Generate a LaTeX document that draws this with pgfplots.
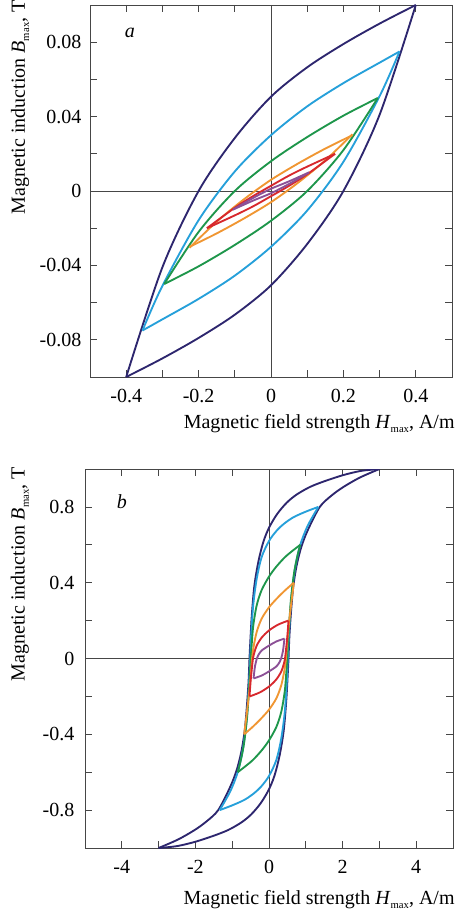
\documentclass[border=0pt]{standalone}
\usepackage{fontspec}
\setmainfont{Liberation Serif}
\usepackage{pgfplots}
\pgfplotsset{compat=1.18}

\definecolor{loopNavy}{RGB}{45,38,110}
\definecolor{loopCyan}{RGB}{38,160,218}
\definecolor{loopGreen}{RGB}{30,150,75}
\definecolor{loopOrange}{RGB}{240,150,50}
\definecolor{loopRed}{RGB}{215,40,45}
\definecolor{loopPurple}{RGB}{140,80,150}
\definecolor{frameInk}{RGB}{70,70,70}

\newcommand{\lbl}{\fontsize{15}{18}\selectfont}
\newcommand{\sub}[1]{\raisebox{-0.45ex}{\fontsize{8}{9}\selectfont #1}}

\pgfplotsset{
  hyst/.style={
    scale only axis,
    anchor=north west,
    axis line style={draw=frameInk, line width=0.7pt},
    tick style={draw=frameInk, line width=0.6pt},
    major tick length=5pt, minor tick length=5pt,
    tick align=inside, xtick pos=both, ytick pos=both,
    minor x tick num=1, minor y tick num=1,
    tick label style={font=\lbl},
    label style={font=\lbl},
    xticklabel style={yshift=-5.5pt},
    yticklabel style={xshift=-3pt},
    xlabel style={anchor=east, inner sep=0pt},
    ylabel style={anchor=east, inner sep=0pt},
  },
  hbranch/.style={smooth, tension=0.5, line width=1.4pt, mark=none},
  zeroline/.style={draw=frameInk, line width=0.7pt, mark=none},
}

\begin{document}
\begin{tikzpicture}
\useasboundingbox (0,0) rectangle (346.5pt,-687.75pt);

% ---- panel a ----
\begin{axis}[hyst,
    at={(67.5pt,-3.75pt)}, width=271.5pt, height=279pt,
    xmin=-0.5, xmax=0.5, ymin=-0.1, ymax=0.1,
    xtick={-0.4,-0.2,0,0.2,0.4}, xticklabels={-0.4,-0.2,0,0.2,0.4},
    ytick={-0.08,-0.04,0,0.04,0.08}, yticklabels={-0.08,-0.04,0,0.04,0.08},
    xlabel={Magnetic field strength \textit{H}\sub{max}, A/m},
    ylabel={Magnetic induction \textit{B}\sub{max}, T},
    xlabel style={at={(axis description cs:1.008,-0.124)}},
    ylabel style={at={(axis description cs:-0.193,1.013)}},
  ]
  \addplot[zeroline] coordinates {(-0.5,0) (0.5,0)};
  \addplot[zeroline] coordinates {(0,-0.1) (0,0.1)};
  % navy
  \addplot[hbranch, loopNavy] coordinates {(0.4,0.1) (0.3,0.09) (0.2,0.079) (0.1,0.0665) (0,0.0507) (-0.1,0.0285) (-0.2,0) (-0.3,-0.041) (-0.4,-0.1)};
  \addplot[hbranch, loopNavy] coordinates {(-0.4,-0.1) (-0.3,-0.09) (-0.2,-0.079) (-0.1,-0.0665) (0,-0.0507) (0.1,-0.0285) (0.2,0) (0.3,0.041) (0.4,0.1)};
  % light blue
  \addplot[hbranch, loopCyan] coordinates {(0.355,0.075) (0.3,0.069) (0.2,0.058) (0.1,0.0455) (0,0.030) (-0.1,0.0105) (-0.2,-0.0157) (-0.3,-0.051) (-0.355,-0.075)};
  \addplot[hbranch, loopCyan] coordinates {(-0.355,-0.075) (-0.3,-0.069) (-0.2,-0.058) (-0.1,-0.0455) (0,-0.030) (0.1,-0.0105) (0.2,0.0157) (0.3,0.051) (0.355,0.075)};
  % green
  \addplot[hbranch, loopGreen] coordinates {(0.295,0.05) (0.2,0.0405) (0.1,0.029) (0,0.016) (-0.1,0) (-0.2,-0.022) (-0.295,-0.05)};
  \addplot[hbranch, loopGreen] coordinates {(-0.295,-0.05) (-0.2,-0.0405) (-0.1,-0.029) (0,-0.016) (0.1,0) (0.2,0.022) (0.295,0.05)};
  % orange
  \addplot[hbranch, loopOrange] coordinates {(0.225,0.03) (0.15,0.0228) (0.075,0.0148) (0,0.006) (-0.075,-0.0045) (-0.15,-0.0165) (-0.225,-0.0305)};
  \addplot[hbranch, loopOrange] coordinates {(-0.225,-0.03) (-0.15,-0.0228) (-0.075,-0.0148) (0,-0.006) (0.075,0.0045) (0.15,0.0165) (0.225,0.0305)};
  % red
  \addplot[hbranch, loopRed] coordinates {(0.177,0.02) (0.1,0.0131) (0.05,0.0083) (0,0.0028) (-0.05,-0.0028) (-0.1,-0.009) (-0.177,-0.02)};
  \addplot[hbranch, loopRed] coordinates {(-0.177,-0.02) (-0.1,-0.0131) (-0.05,-0.0083) (0,-0.0028) (0.05,0.0028) (0.1,0.009) (0.177,0.02)};
  % purple
  \addplot[hbranch, loopPurple] coordinates {(0.105,0.01) (0.05,0.0052) (0,0.0012) (-0.05,-0.0038) (-0.105,-0.01)};
  \addplot[hbranch, loopPurple] coordinates {(-0.105,-0.01) (-0.05,-0.0052) (0,-0.0012) (0.05,0.0038) (0.105,0.01)};
  \node[font=\lbl\itshape] at (axis cs:-0.39,0.085) {a};
\end{axis}

% ---- panel b ----
\begin{axis}[hyst,
    at={(63.75pt,-351.75pt)}, width=276pt, height=284.25pt,
    xmin=-5, xmax=5, ymin=-1, ymax=1,
    xtick={-4,-2,0,2,4}, xticklabels={-4,-2,0,2,4},
    ytick={-0.8,-0.4,0,0.4,0.8}, yticklabels={-0.8,-0.4,0,0.4,0.8},
    yticklabel style={xshift=-1.5pt},
    xlabel={Magnetic field strength \textit{H}\sub{max}, A/m},
    ylabel={Magnetic induction \textit{B}\sub{max}, T},
    xlabel style={at={(axis description cs:1.005,-0.135)}},
    ylabel style={at={(axis description cs:-0.177,1.005)}},
  ]
  \addplot[zeroline] coordinates {(-5,0) (5,0)};
  \addplot[zeroline] coordinates {(0,-1) (0,1)};
  % navy
  \addplot[hbranch, loopNavy] coordinates {(3,1) (2.5,0.99) (2.02,0.968) (1.5,0.935) (1.11,0.905) (0.75,0.865) (0.48,0.822) (0.22,0.762) (0,0.69) (-0.154,0.615) (-0.29,0.51) (-0.4,0.38) (-0.47,0.22) (-0.51,0.08) (-0.53,0) (-0.555,-0.12) (-0.6,-0.25) (-0.66,-0.38) (-0.75,-0.49) (-0.88,-0.59) (-1.06,-0.68) (-1.38,-0.8) (-1.7,-0.86) (-2.02,-0.905) (-2.47,-0.955) (-3,-1)};
  \addplot[hbranch, loopNavy] coordinates {(-3,-1) (-2.5,-0.99) (-2.02,-0.968) (-1.5,-0.935) (-1.11,-0.905) (-0.75,-0.865) (-0.48,-0.822) (-0.22,-0.762) (0,-0.69) (0.154,-0.615) (0.29,-0.51) (0.4,-0.38) (0.47,-0.22) (0.51,-0.08) (0.53,0) (0.555,0.12) (0.6,0.25) (0.66,0.38) (0.75,0.49) (0.88,0.59) (1.06,0.68) (1.38,0.8) (1.7,0.86) (2.02,0.905) (2.47,0.955) (3,1)};
  % light blue
  \addplot[hbranch, loopCyan] coordinates {(1.34,0.8) (1.0,0.775) (0.66,0.745) (0.4,0.71) (0.21,0.675) (0,0.62) (-0.2,0.535) (-0.335,0.42) (-0.43,0.28) (-0.485,0.12) (-0.51,0) (-0.54,-0.12) (-0.58,-0.25) (-0.64,-0.38) (-0.72,-0.49) (-0.85,-0.6) (-1.05,-0.7) (-1.34,-0.8)};
  \addplot[hbranch, loopCyan] coordinates {(-1.34,-0.8) (-1.0,-0.775) (-0.66,-0.745) (-0.4,-0.71) (-0.21,-0.675) (0,-0.62) (0.2,-0.535) (0.335,-0.42) (0.43,-0.28) (0.485,-0.12) (0.51,0) (0.54,0.12) (0.58,0.25) (0.64,0.38) (0.72,0.49) (0.85,0.6) (1.05,0.7) (1.34,0.8)};
  % green
  \addplot[hbranch, loopGreen] coordinates {(0.85,0.6) (0.65,0.57) (0.435,0.535) (0.2,0.485) (0,0.432) (-0.2,0.361) (-0.335,0.28) (-0.43,0.17) (-0.475,0.06) (-0.495,0) (-0.52,-0.09) (-0.555,-0.2) (-0.6,-0.32) (-0.68,-0.45) (-0.77,-0.54) (-0.85,-0.6)};
  \addplot[hbranch, loopGreen] coordinates {(-0.85,-0.6) (-0.65,-0.57) (-0.435,-0.535) (-0.2,-0.485) (0,-0.432) (0.2,-0.361) (0.335,-0.28) (0.43,-0.17) (0.475,-0.06) (0.495,0) (0.52,0.09) (0.555,0.2) (0.6,0.32) (0.68,0.45) (0.77,0.54) (0.85,0.6)};
  % orange
  \addplot[hbranch, loopOrange] coordinates {(0.675,0.4) (0.45,0.362) (0.22,0.318) (0,0.27) (-0.2,0.21) (-0.335,0.14) (-0.42,0.06) (-0.46,0) (-0.5,-0.1) (-0.55,-0.2) (-0.61,-0.3) (-0.675,-0.4)};
  \addplot[hbranch, loopOrange] coordinates {(-0.675,-0.4) (-0.45,-0.362) (-0.22,-0.318) (0,-0.27) (0.2,-0.21) (0.335,-0.14) (0.42,-0.06) (0.46,0) (0.5,0.1) (0.55,0.2) (0.61,0.3) (0.675,0.4)};
  % red
  \addplot[hbranch, loopRed] coordinates {(0.525,0.2) (0.25,0.179) (0,0.148) (-0.2,0.11) (-0.335,0.068) (-0.4,0.03) (-0.435,0) (-0.47,-0.06) (-0.5,-0.12) (-0.53,-0.2)};
  \addplot[hbranch, loopRed] coordinates {(-0.525,-0.2) (-0.25,-0.179) (0,-0.148) (0.2,-0.11) (0.335,-0.068) (0.4,-0.03) (0.435,0) (0.47,0.06) (0.5,0.12) (0.53,0.2)};
  % purple
  \addplot[hbranch, loopPurple] coordinates {(0.42,0.105) (0.2,0.09) (0,0.068) (-0.2,0.042) (-0.29,0.018) (-0.33,0) (-0.38,-0.04) (-0.42,-0.105)};
  \addplot[hbranch, loopPurple] coordinates {(-0.42,-0.105) (-0.2,-0.09) (0,-0.068) (0.2,-0.042) (0.29,-0.018) (0.33,0) (0.38,0.04) (0.42,0.105)};
  \node[font=\lbl\itshape] at (axis cs:-4,0.83) {b};
\end{axis}
\end{tikzpicture}
\end{document}
